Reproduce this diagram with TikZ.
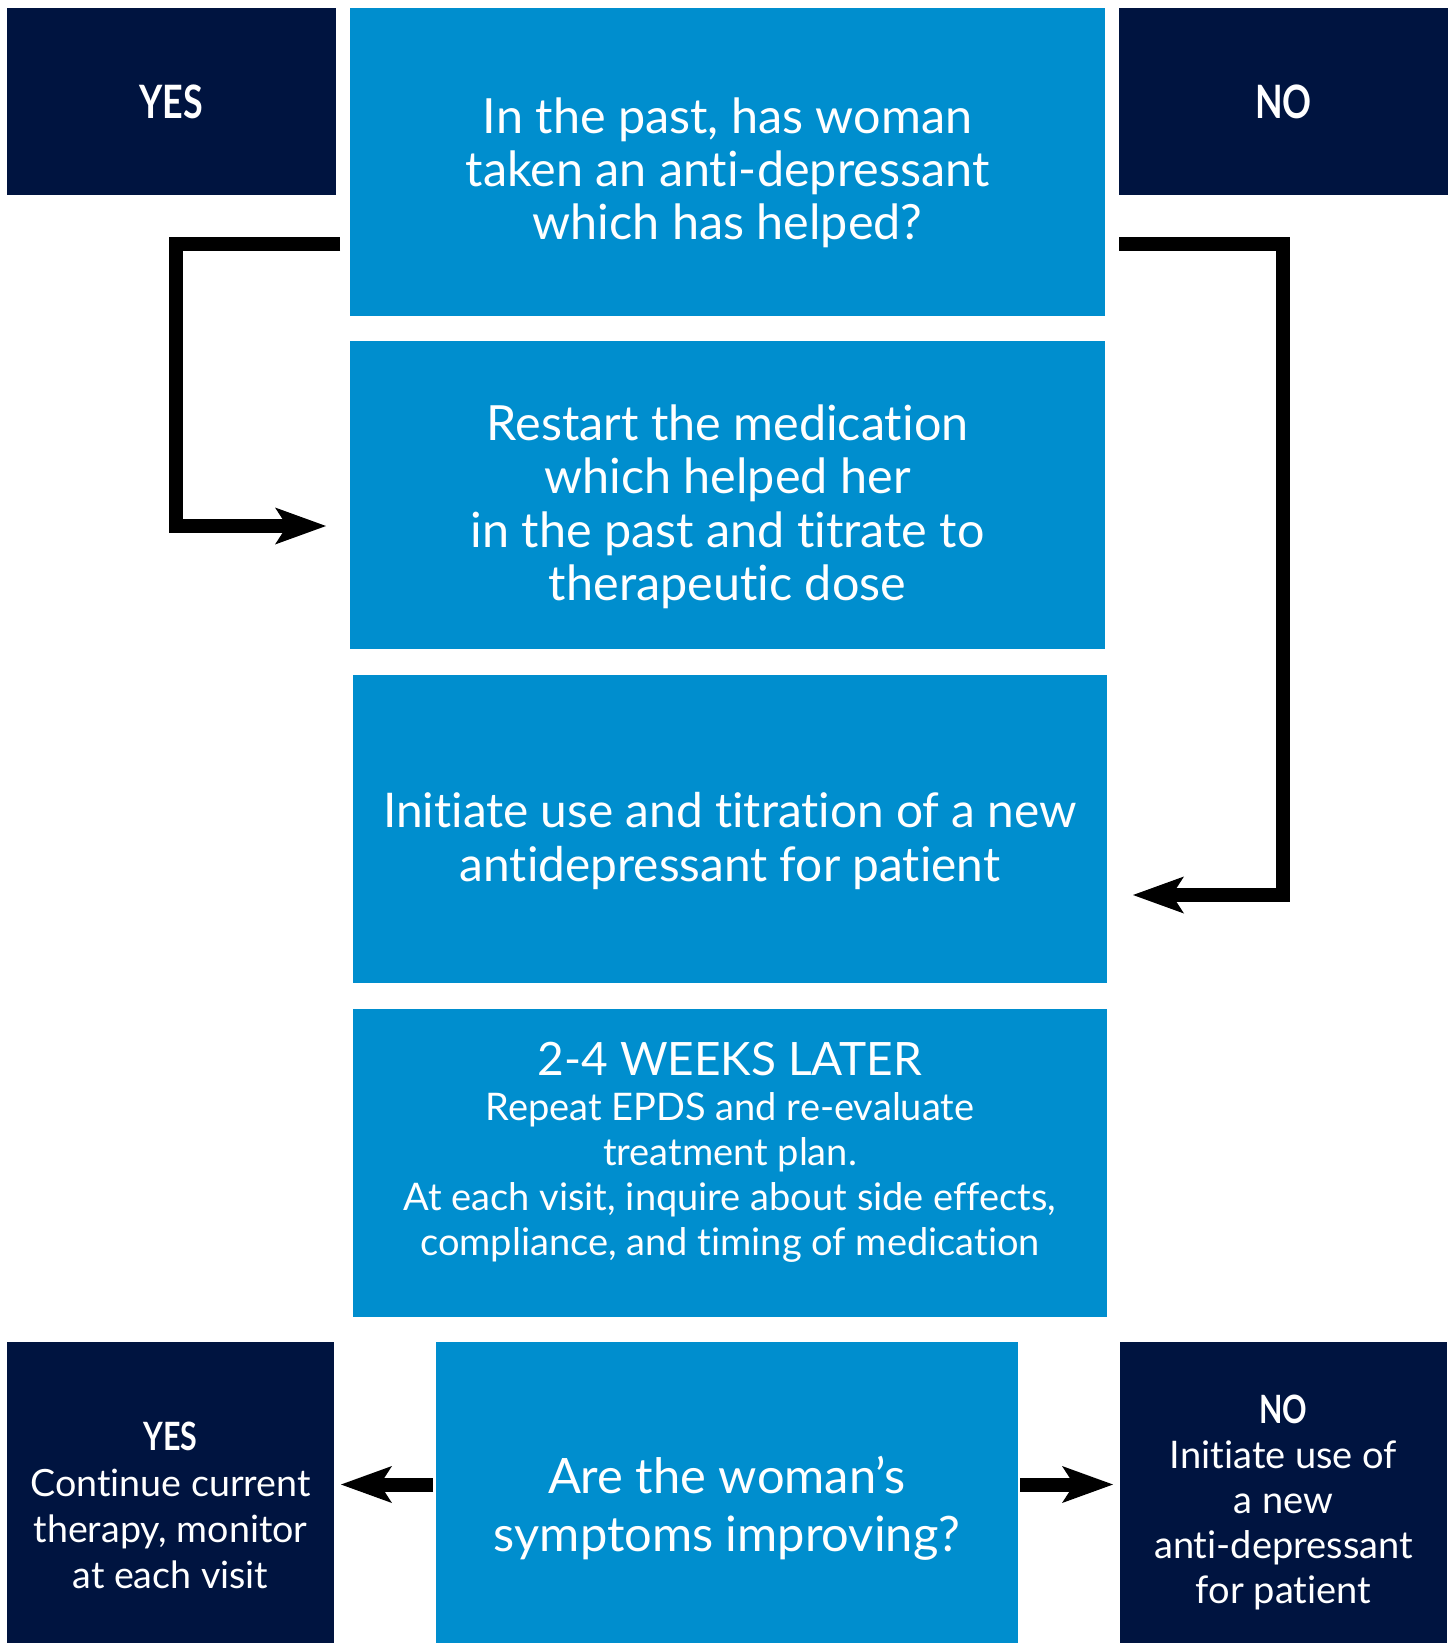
\documentclass[tikz,border=0pt]{standalone}
\usepackage{fontspec}
\setmainfont{Lato}[Ligatures={NoRequired,NoCommon,NoContextual,NoRare}]
\newfontfamily\condfont[FakeStretch=0.78]{Lato}
\usetikzlibrary{arrows.meta}
\definecolor{boxblue}{RGB}{0,142,206}
\definecolor{navy}{RGB}{0,20,64}
\begin{document}
\begin{tikzpicture}[x=1pt,y=-1pt,
  bluebox/.style={fill=boxblue, draw=none, inner sep=0pt, outer sep=0pt, anchor=north west},
  navybox/.style={fill=navy, draw=none, inner sep=0pt, outer sep=0pt, anchor=north west},
  txt/.style={text=white, align=center, inner sep=0pt},
  head/.style={font=\condfont\bfseries\fontsize{46}{46}\selectfont},
  arr/.style={line width=14pt, draw=black, line join=miter,
    -{Stealth[length=51pt,width=37pt,inset=12pt,line width=0pt]}},
]
\useasboundingbox (0,0) rectangle (1453,1643);

% boxes
\node[navybox, minimum width=329pt, minimum height=187pt] (ytop) at (7,8) {};
\node[navybox, minimum width=329pt, minimum height=187pt] (ntop) at (1119,8) {};
\node[bluebox, minimum width=755pt, minimum height=308pt] (b1) at (350,8) {};
\node[bluebox, minimum width=755pt, minimum height=308pt] (b2) at (350,341) {};
\node[bluebox, minimum width=754pt, minimum height=308pt] (b3) at (353,675) {};
\node[bluebox, minimum width=754pt, minimum height=308pt] (b4) at (353,1009) {};
\node[bluebox, minimum width=582pt, minimum height=301pt] (b5) at (436,1342) {};
\node[navybox, minimum width=327pt, minimum height=301pt] (ybot) at (7,1342) {};
\node[navybox, minimum width=327pt, minimum height=301pt] (nbot) at (1120,1342) {};

% texts
\node[txt, head] (ytopt) at (ytop.center) {YES};
\node[txt, head] (ntopt) at (ntop.center) {NO};
\node[txt, font=\fontsize{48.5}{53}\selectfont] (b1t) at (727.5,173) {In the past, has woman\\taken an anti-depressant\\which has helped?};
\node[txt, font=\fontsize{48.5}{53.5}\selectfont] (b2t) at (727.5,507) {Restart the medication\\which helped her\\in the past and titrate to\\therapeutic dose};
\node[txt, font=\fontsize{47.8}{54}\selectfont] (b3t) at (730,841) {Initiate use and titration of a new\\antidepressant for patient};
\node[txt, font=\fontsize{38}{45}\selectfont] (b4t) at (730,1152) {{\fontsize{46}{46}\selectfont 2-4 WEEKS LATER}\\Repeat EPDS and re-evaluate\\treatment plan.\\At each visit, inquire about side effects,\\compliance, and timing of medication};
\node[txt, font=\fontsize{48.8}{58}\selectfont] (b5t) at (727,1508) {Are the woman’s\\symptoms improving?};
\node[txt, font=\fontsize{37.6}{46}\selectfont] (ybott) at (170.5,1505) {{\condfont\bfseries\fontsize{39}{39}\selectfont YES}\\Continue current\\therapy, monitor\\at each visit};
\node[txt, font=\fontsize{38}{45}\selectfont] (nbott) at (1283.5,1502) {{\condfont\bfseries\fontsize{39}{39}\selectfont NO}\\Initiate use of\\a new\\anti-depressant\\for patient};

% connectors
\draw[arr] ([shift={(-10,236)}]b1.north west) -- ++(-164,0) |- ([shift={(-24,31)}]b2.west);
\draw[arr] ([shift={(14,236)}]b1.north east) -- ++(164,0) |- ([shift={(26,66)}]b3.east);
\draw[arr] ([shift={(-3,-8)}]b5.west) -- ([shift={(7,-8)}]ybot.east);
\draw[arr] ([shift={(2,-8)}]b5.east) -- ([shift={(-7,-8)}]nbot.west);
\end{tikzpicture}
\end{document}
